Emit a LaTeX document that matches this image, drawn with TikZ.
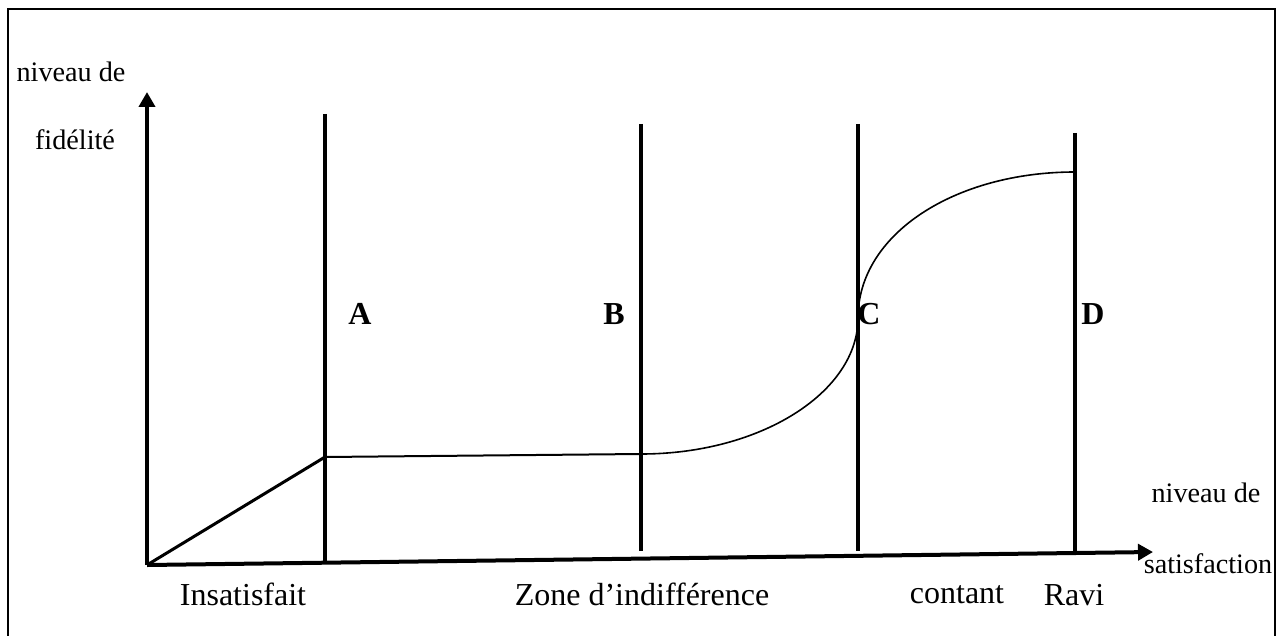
\documentclass[tikz,border=0pt]{standalone}
\usepackage{fontspec}
\setmainfont{Liberation Serif}
\usepackage{tikz}
\usetikzlibrary{arrows.meta,positioning,calc}

\begin{document}
\begin{tikzpicture}[x=0.5pt, y=-0.5pt,
    axe/.style={line width=2pt, -{Triangle[length=7.5pt,width=8pt]}},
    seuil/.style={line width=1.8pt},
    courbe/.style={line width=0.8pt},
    lbl/.style={inner sep=0pt, anchor=base, font=\fontsize{16}{19}\selectfont},
    axelbl/.style={inner sep=0pt, anchor=base, font=\fontsize{14.1}{17}\selectfont},
    lettre/.style={inner sep=0pt, anchor=base, font=\fontsize{16}{19}\selectfont\bfseries}
]
    \useasboundingbox (0,0) rectangle (1283,636);

    % cadre
    \draw[line width=1pt] (8,640) -- (8,9) -- (1275,9) -- (1275,640);

    % axes
    \coordinate (O) at (147,565);
    \coordinate (ytip) at (147,92);
    \coordinate (xtip) at (1153,552);
    \draw[axe] (O) -- (ytip);
    \draw[axe] (O) -- (xtip);

    % seuils A B C D
    \coordinate (Ah) at (325,114);  \coordinate (Ab) at (325,564);
    \coordinate (Bh) at (641,124);  \coordinate (Bb) at (641,551);
    \coordinate (Ch) at (858,124);  \coordinate (Cb) at (858,551);
    \coordinate (Dh) at (1075,133); \coordinate (Db) at (1075,552);
    \draw[seuil] (Ah) -- (Ab);
    \draw[seuil] (Bh) -- (Bb);
    \draw[seuil] (Ch) -- (Cb);
    \draw[seuil] (Dh) -- (Db);

    % courbe de fidelite
    \coordinate (p1) at (325,457);
    \coordinate (p2) at (641,454);
    \coordinate (p3) at (858,318);
    \coordinate (p4) at (1075,172);
    \draw[line width=1.5pt] (O) -- (p1);
    \draw[line width=1pt] (p1) -- (p2);
    \draw[courbe] (p2) .. controls (761,454) and (858,392) .. (p3);
    \draw[courbe] (p3) .. controls (858,234) and (955,172) .. (p4);

    \node[lettre] (lA) at (360,324) {A};
    \node[lettre] (lB) at (614,324) {B};
    \node[lettre] (lC) at (869,324) {C};
    \node[lettre] (lD) at (1093,324) {D};

    \node[axelbl] (yl1) at (71,82) {niveau de};
    \node[axelbl] (yl2) at (75,150) {fidélité};
    \node[axelbl] (xl1) at (1206,502) {niveau de};
    \node[axelbl] (xl2) at (1208,573) {satisfaction};

    \node[lbl] (z1) at (243,605) {Insatisfait};
    \node[lbl] (z2) at (642,605) {Zone d’indifférence};
    \node[lbl] (z3) at (957,603) {contant};
    \node[lbl] (z4) at (1074,605) {Ravi};

\end{tikzpicture}
\end{document}
